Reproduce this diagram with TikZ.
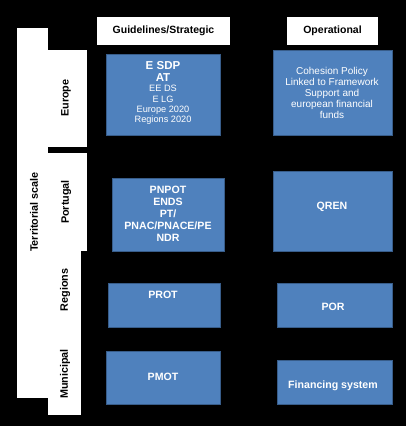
\documentclass[tikz,border=0pt]{standalone}
\usepackage{fontspec}
\setmainfont{Liberation Sans}
\definecolor{boxblue}{HTML}{4F81BD}
\definecolor{boxedge}{HTML}{385D8A}
\begin{document}
\begin{tikzpicture}[x=1pt,y=-1pt,
  whitebox/.style={fill=white,draw=none},
  bluebox/.style={fill=boxblue,draw=boxedge,line width=0.6pt},
  btxt/.style={text=white,font=\fontsize{10.6}{12}\selectfont\bfseries,align=center,inner sep=0pt},
  rtxt/.style={text=white,font=\fontsize{9.5}{10.6}\selectfont,align=center,inner sep=0pt},
  htxt/.style={text=black,font=\fontsize{10.5}{12}\selectfont\bfseries,inner sep=0pt},
  vtxt/.style={text=black,font=\fontsize{10.8}{12}\selectfont\bfseries,rotate=90,inner sep=0pt}]
\fill[black] (0,0) rectangle (406,426);
\useasboundingbox (0,0) rectangle (406,426);
% headers
\fill[whitebox] (97,17) rectangle (230,45);
\node[htxt] (hg) at (163.5,31) {Guidelines/Strategic};
\fill[whitebox] (287,17) rectangle (378,45);
\node[htxt] (ho) at (332.5,31) {Operational};
% territorial scale bar
\fill[whitebox] (17,28) rectangle (48,398);
\node[vtxt] (ts) at (34,212) {Territorial scale};
% scale boxes
\fill[whitebox] (48,50) rectangle (87,147);
\node[vtxt] (eu) at (66,98) {Europe};
\fill[whitebox] (48,153) rectangle (87,251);
\node[vtxt] (pt) at (66,202) {Portugal};
\fill[whitebox] (48,251) rectangle (81,333);
\node[vtxt] (rg) at (65,290) {Regions};
\fill[whitebox] (48,333) rectangle (81,415);
\node[vtxt] (mu) at (65,374) {Municipal};
% blue boxes
\draw[bluebox] (106,54) rectangle (220,135);
\node[btxt,font=\fontsize{11.5}{12}\selectfont\bfseries] (esdp) at (163,66) {E SDP};
\node[btxt,font=\fontsize{11.5}{12}\selectfont\bfseries] (at) at (163,78) {AT};
\node[rtxt,font=\fontsize{9.2}{10.4}\selectfont,anchor=north] (eeds) at (163,85) {EE DS\\E LG\\Europe 2020\\Regions 2020};
\draw[bluebox] (273,50) rectangle (392,135);
\node[rtxt,font=\fontsize{10}{10.8}\selectfont] (coh) at (332,93) {Cohesion Policy\\Linked to Framework\\Support and\\european financial\\funds};
\draw[bluebox] (112,178) rectangle (224,251);
\node[btxt] (pnpot) at (168,214) {PNPOT\\ENDS\\PT/\\PNAC/PNACE/PE\\NDR};
\draw[bluebox] (273,171) rectangle (392,251);
\node[btxt] (qren) at (332,207) {QREN};
\draw[bluebox] (108,283) rectangle (220,327);
\node[btxt] (prot) at (163,295) {PROT};
\draw[bluebox] (277,283) rectangle (392,327);
\node[btxt] (por) at (333,307) {POR};
\draw[bluebox] (106,351) rectangle (220,404);
\node[btxt] (pmot) at (163,377) {PMOT};
\draw[bluebox] (277,360) rectangle (392,404);
\node[btxt] (fin) at (333,386) {Financing system};
\end{tikzpicture}
\end{document}
